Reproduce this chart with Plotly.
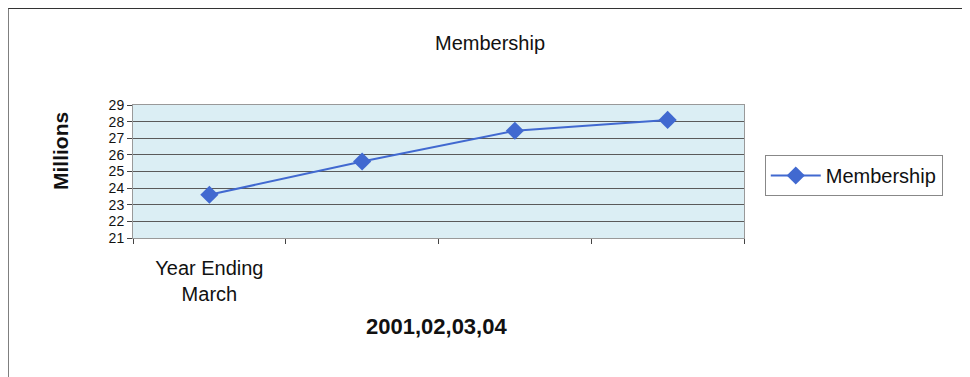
import plotly.graph_objects as go

categories = ["2001", "2002", "2003", "2004"]
membership = [23.6, 25.6, 27.45, 28.1]
tick_labels = ["Year Ending<br>March", "", "", ""]
y_ticks = [21, 22, 23, 24, 25, 26, 27, 28, 29]

# the page body adds an 8px offset; plot area in page px: x 133-744, y 105-238
fig = go.Figure()
fig.add_trace(go.Scatter(
    x=categories, y=membership, mode="lines+markers", name="Membership",
    line=dict(color="#4169d0", width=2),
    marker=dict(symbol="diamond", size=14, color="#4169d0"),
))

fig.update_layout(
    width=970, height=377,
    margin=dict(l=125, r=234, t=97, b=147),
    paper_bgcolor="white", plot_bgcolor="#dbeef4",
    font=dict(family="Liberation Sans, Arial", color="#111"),
    title=dict(text="Membership", x=482 / 970, xanchor="center", y=1 - 35 / 377,
               yanchor="middle", yref="container", font=dict(size=20, color="#111")),
    showlegend=True,
    legend=dict(x=1.034, y=0.624, xanchor="left", yanchor="top",
                bordercolor="#888", borderwidth=1, bgcolor="white",
                font=dict(size=20, color="#111"), itemwidth=50),
    xaxis=dict(type="category", tickvals=categories, ticktext=tick_labels,
               range=[-0.5, 3.5],
               tickson="boundaries", ticks="outside", ticklen=5, tickcolor="#444",
               ticklabelstandoff=12,
               showgrid=False, showline=True, linecolor="#999", mirror=True,
               tickfont=dict(size=20, color="#111")),
    yaxis=dict(range=[21, 29], tickvals=y_ticks, ticks="outside", ticklen=5,
               tickcolor="#444", showgrid=True, gridcolor="#5a5a5a", gridwidth=1,
               showline=True, linecolor="#999", mirror=True, zeroline=False,
               tickfont=dict(size=14, color="#111")),
    annotations=[
        dict(text="<b>2001,02,03,04</b>", xref="paper", yref="paper",
             x=(436 - 133) / 611, y=(238 - 326) / 133, showarrow=False,
             xanchor="center", yanchor="middle", font=dict(size=22, color="#111")),
        dict(text="<b>Millions</b>", xref="paper", yref="paper", textangle=-90,
             x=(60 - 133) / 611, y=(238 - 151) / 133, showarrow=False,
             xanchor="center", yanchor="middle", font=dict(size=21, color="#111")),
    ],
    shapes=[
        dict(type="line", xref="paper", yref="paper",
             x0=(8 - 133) / 611, x1=(978 - 133) / 611,
             y0=(238 - 8) / 133, y1=(238 - 8) / 133,
             line=dict(color="#333", width=2)),
        dict(type="line", xref="paper", yref="paper",
             x0=(8 - 133) / 611, x1=(8 - 133) / 611,
             y0=(238 - 8) / 133, y1=(238 - 385) / 133,
             line=dict(color="#555", width=1.5)),
    ],
)

fig.write_html("out.html")
